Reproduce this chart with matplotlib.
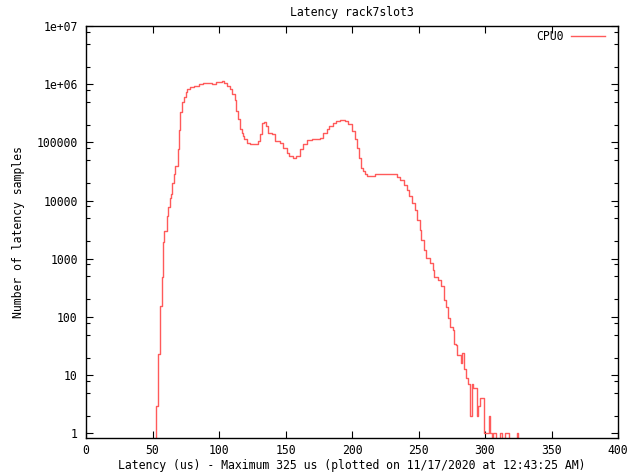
import matplotlib
matplotlib.use("Agg")
import matplotlib.pyplot as plt
from matplotlib.ticker import LogLocator, FixedLocator, NullFormatter, FuncFormatter

# latency histogram, one bin per microsecond
latency_us = list(range(52, 327))
samples = [
    0, 3, 23, 23, 155, 495, 1960, 2960, 2960, 5360,
    7880, 11300, 13200, 20400, 29200, 39000, 39000, 75700, 163000, 329000,
    490000, 490000, 597000, 728000, 820000, 820000, 888000, 888000, 888000, 924000,
    924000, 924000, 924000, 1000000, 1000000, 1000000, 1040000, 1040000, 1040000, 1040000,
    1040000, 1040000, 1040000, 1000000, 1000000, 1000000, 1070000, 1070000, 1070000, 1070000,
    1127000, 1127000, 1040000, 1040000, 935000, 935000, 820000, 820000, 672000, 672000,
    530000, 347000, 249000, 249000, 168000, 143000, 128000, 113000, 113000, 98900,
    98900, 92400, 92400, 92400, 92400, 92400, 92400, 105000, 105000, 137000,
    213000, 213000, 224000, 191000, 191000, 147000, 147000, 147000, 137000, 137000,
    105000, 105000, 105000, 105000, 96100, 96100, 81000, 81000, 81000, 66400,
    66400, 58000, 58000, 58000, 54500, 54500, 58000, 58000, 58000, 75700,
    75700, 92400, 92400, 92400, 108000, 108000, 108000, 108000, 113000, 113000,
    113000, 113000, 113000, 113000, 120000, 120000, 147000, 147000, 147000, 168000,
    168000, 191000, 191000, 191000, 219000, 219000, 233000, 233000, 233000, 239000,
    239000, 239000, 239000, 233000, 233000, 204000, 204000, 204000, 157000, 157000,
    113000, 113000, 81000, 54500, 54500, 36600, 32000, 32000, 28100, 26200,
    26200, 26200, 26200, 26200, 26200, 28100, 28100, 28100, 28100, 29200,
    29200, 29200, 29200, 29200, 29200, 29200, 29200, 29200, 29200, 28100,
    28100, 28100, 25600, 25600, 23000, 23000, 23000, 18900, 18900, 15500,
    15500, 11900, 11900, 9120, 9120, 7000, 7000, 4700, 4700, 3160,
    2130, 2130, 1430, 1430, 1030, 1030, 1030, 843, 843, 646,
    483, 483, 483, 434, 434, 342, 342, 196, 196, 150,
    95, 95, 68, 68, 60, 35, 33, 22, 22, 22,
    16, 24, 13, 13, 9, 7, 7, 2, 7, 6,
    6, 6, 2, 3, 4, 4, 4, 1, 1, 1,
    1, 2, 1, 0, 1, 1, 0, 0, 0, 1,
    1, 0, 0, 1, 1, 1, 0, 0, 0, 0,
    0, 0, 1, 0, 0,
]

x_ticks = [0, 50, 100, 150, 200, 250, 300, 350, 400]
y_ticks = [1, 10, 100, 1000, 10000, 100000, 1000000, 10000000]
y_labels = ["1", "10", "100", "1000", "10000", "100000", "1e+06", "1e+07"]

FONT = "DejaVu Sans Mono"
plt.rcParams["font.family"] = FONT
plt.rcParams["font.size"] = 8.3

W, H = 632, 474
fig = plt.figure(figsize=(W / 100, H / 100), dpi=100)
left, right, top, bottom = 86, 618, 26, 437.5
ax = fig.add_axes([left / W, 1 - bottom / H, (right - left) / W, (bottom - top) / H])

ax.step(latency_us, samples, where="post", color="#ff5a5a", lw=1.0, label="CPU0")

ax.set_yscale("log")
ax.set_xlim(0, 400)
ax.set_ylim(0.85, 1e7)

ax.xaxis.set_major_locator(FixedLocator(x_ticks))
ax.yaxis.set_major_locator(FixedLocator(y_ticks))
ax.yaxis.set_major_formatter(FuncFormatter(lambda v, p: y_labels[y_ticks.index(v)] if v in y_ticks else ""))
ax.yaxis.set_minor_locator(LogLocator(base=10, subs=(2, 5, 8)))
ax.yaxis.set_minor_formatter(NullFormatter())

ax.tick_params(which="both", direction="in", top=True, right=True, colors="black",
               width=0.8, labelsize=8.3)
ax.tick_params(which="major", length=5)
ax.tick_params(which="minor", length=3)
ax.tick_params(axis="x", pad=5)
ax.tick_params(axis="y", pad=6)
for s in ax.spines.values():
    s.set_linewidth(1.0)

ax.set_title("Latency rack7slot3", fontsize=8.3, pad=7)
ax.set_xlabel("Latency (us) - Maximum 325 us (plotted on 11/17/2020 at 12:43:25 AM)", labelpad=1)
ax.set_ylabel("Number of latency samples", labelpad=8)

ax.legend(loc="upper right", bbox_to_anchor=(0.976, 0.99), frameon=False, markerfirst=False,
          handlelength=3.0, handletextpad=0.6, borderpad=0, borderaxespad=0)

fig.savefig("out.png", dpi=100)
